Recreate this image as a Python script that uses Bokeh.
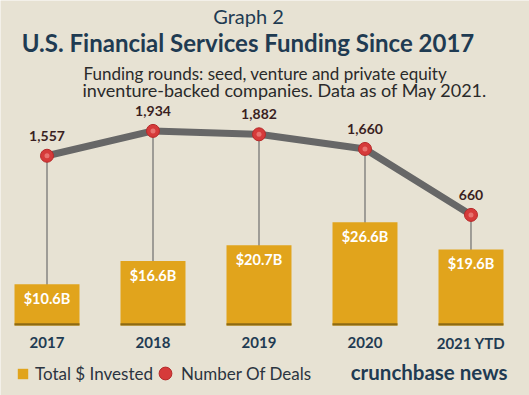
from bokeh.plotting import figure
from bokeh.models import Range1d, Label, Legend, LegendItem, ColumnDataSource
from bokeh.core.properties import value
from bokeh.embed import file_html
from bokeh.resources import INLINE

categories = ["2017", "2018", "2019", "2020", "2021 YTD"]
invested_b = [10.6, 16.6, 20.7, 26.6, 19.6]
invested_labels = ["$10.6B", "$16.6B", "$20.7B", "$26.6B", "$19.6B"]
deals = [1557, 1934, 1882, 1660, 660]
deal_labels = ["1,557", "1,934", "1,882", "1,660", "660"]

BG = "#e7e2d3"
NAVY = "#1f3b52"
GOLD = "#e1a41c"
FONT = "Lato"

xs = list(range(len(categories)))
src = ColumnDataSource(dict(x=xs, cat=categories, inv=invested_b, inv_lab=invested_labels,
                            deals=deals, deal_lab=deal_labels,
                            floor=[-900] * len(xs), base=[0] * len(xs), band=[0.6] * len(xs),
                            cat_y=[-4.4] * len(xs)))

p = figure(width=529, height=395, output_backend="svg", toolbar_location=None,
           x_range=Range1d(-0.4387, 4.552), y_range=Range1d(-18.04, 83.76),
           min_border=0, background_fill_color=BG, border_fill_color=BG,
           outline_line_color=None)
p.axis.visible = False
p.grid.visible = False
p.extra_y_ranges = {"deals": Range1d(-2080, 3912)}

# stems from points down to the bars (covered by bars)
p.segment(x0="x", y0="deals", x1="x", y1="floor", source=src, y_range_name="deals",
          line_color="#6e6e6e", line_width=1.2)

# bars
bars = p.vbar(x="x", top="inv", bottom="base", width=0.613, source=src,
              fill_color=GOLD, line_color=None)
p.vbar(x="x", top="band", bottom="base", width=0.613, source=src,
       fill_color="#8c6a14", line_color=None)
p.text(x="x", y="inv", text="inv_lab", source=src, text_color="white",
       text_font=value(FONT), text_font_style="bold", text_font_size="14.5px",
       text_align="center", text_baseline="middle", y_offset=14)

# deals line
p.line(x="x", y="deals", source=src, y_range_name="deals", line_color="#676767",
       line_width=7, line_join="round")
pts = p.scatter(x="x", y="deals", source=src, y_range_name="deals", size=13,
                fill_color="#d63a3a", line_color="#b52a2a", line_width=1)
p.scatter(x="x", y="deals", source=src, y_range_name="deals", size=5,
          fill_color="#ef8a86", line_color=None, fill_alpha=0.7)
p.text(x="x", y="deals", text="deal_lab", source=src, y_range_name="deals",
       text_color="#3a1f22", text_font=value(FONT), text_font_style="bold",
       text_font_size="14px", text_align="center", text_baseline="middle", y_offset=-20)

# category labels
p.text(x="x", y="cat_y", text="cat", source=src, text_color=NAVY, text_font=value(FONT),
       text_font_style="bold", text_font_size="15px", text_align="center",
       text_baseline="middle")

# titles
p.add_layout(Label(x=248, y=380, x_units="screen", y_units="screen", text="Graph 2",
                   text_font=FONT, text_font_size="20px", text_color=NAVY,
                   text_align="center", text_baseline="middle"))
p.add_layout(Label(x=247.5, y=353, x_units="screen", y_units="screen",
                   text="U.S. Financial Services Funding Since 2017",
                   text_font=FONT, text_font_style="bold", text_font_size="24px",
                   text_color=NAVY, text_align="center", text_baseline="middle"))
p.add_layout(Label(x=83, y=322, x_units="screen", y_units="screen",
                   text="Funding rounds: seed, venture and private equity",
                   text_font=FONT, text_font_size="17px", text_color="#2a2a2a",
                   text_align="left", text_baseline="middle"))
p.add_layout(Label(x=82, y=306, x_units="screen", y_units="screen",
                   text="inventure-backed companies. Data as of May 2021.",
                   text_font=FONT, text_font_size="18px", text_color="#2a2a2a",
                   text_align="left", text_baseline="middle"))
p.add_layout(Label(x=507, y=24, x_units="screen", y_units="screen",
                   text="crunchbase news", text_font=FONT, text_font_style="bold",
                   text_font_size="20.5px", text_color=NAVY, text_align="right",
                   text_baseline="middle"))

legend1 = Legend(items=[LegendItem(label="Total $ Invested", renderers=[bars])],
                 orientation="horizontal", location=(16, 11),
                 background_fill_alpha=0, border_line_color=None,
                 label_text_font=FONT, label_text_font_size="17px",
                 label_text_color="#2b3440", glyph_width=13, glyph_height=13,
                 label_height=13, padding=0, margin=0, label_standoff=6)
legend2 = Legend(items=[LegendItem(label="Number Of Deals", renderers=[pts])],
                 orientation="horizontal", location=(149, 6),
                 background_fill_alpha=0, border_line_color=None,
                 label_text_font=FONT, label_text_font_size="17px",
                 label_text_color="#2b3440", glyph_width=32, glyph_height=32,
                 label_height=13, padding=0, margin=0, label_standoff=0)
p.add_layout(legend1)
p.add_layout(legend2)

open("out.html", "w").write(file_html(p, INLINE))
